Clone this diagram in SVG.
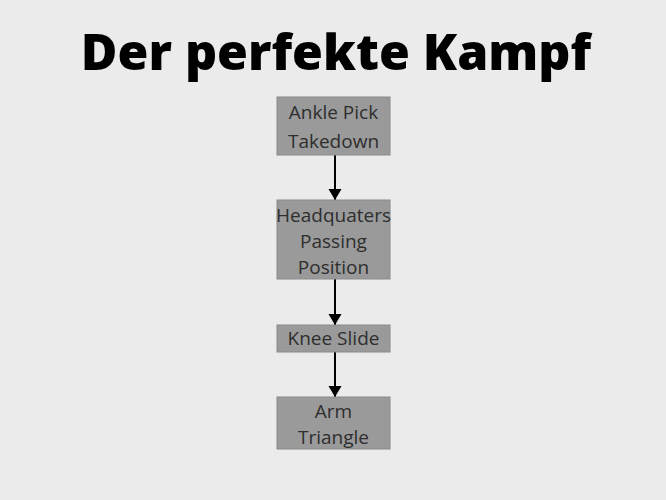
<svg xmlns="http://www.w3.org/2000/svg" width="666" height="500" viewBox="0 0 666 500">
<style>
.box{fill:#9a9a9a;stroke:#8a8a8a;stroke-width:1}
.lbl{font-family:"Open Sans",sans-serif;font-size:19px;fill:#2e2e2e;text-anchor:middle}
.title{font-family:"Open Sans",sans-serif;font-size:50px;font-weight:800;fill:#000;text-anchor:middle}
.edge{stroke:#000;stroke-width:2;fill:none;marker-end:url(#ah)}
</style>
<defs>
<marker id="ah" markerWidth="12" markerHeight="14" refX="11" refY="7" orient="auto" markerUnits="userSpaceOnUse">
<path d="M0,0.5 L11,7 L0,13.5 Z" fill="#000"/>
</marker>
</defs>
<rect width="666" height="500" fill="#ebebeb"/>
<text class="title" x="336" y="70">Der perfekte Kampf</text>
<g id="connectors">
<line class="edge" x1="335" y1="155" x2="335" y2="200"/>
<line class="edge" x1="335" y1="279" x2="335" y2="325"/>
<line class="edge" x1="335" y1="352" x2="335" y2="397"/>
</g>
<g id="n1">
<rect class="box" x="277" y="97" width="113" height="58"/>
<text class="lbl" x="333.5" y="119">Ankle Pick</text>
<text class="lbl" x="333.5" y="148">Takedown</text>
</g>
<g id="n2">
<rect class="box" x="277" y="200" width="113" height="79"/>
<text class="lbl" x="333.5" y="222">Headquaters</text>
<text class="lbl" x="333.5" y="248">Passing</text>
<text class="lbl" x="333.5" y="274">Position</text>
</g>
<g id="n3">
<rect class="box" x="277" y="325" width="113" height="27"/>
<text class="lbl" x="333.5" y="345">Knee Slide</text>
</g>
<g id="n4">
<rect class="box" x="277" y="397" width="113" height="52"/>
<text class="lbl" x="333.5" y="418">Arm</text>
<text class="lbl" x="333.5" y="444">Triangle</text>
</g>
</svg>
